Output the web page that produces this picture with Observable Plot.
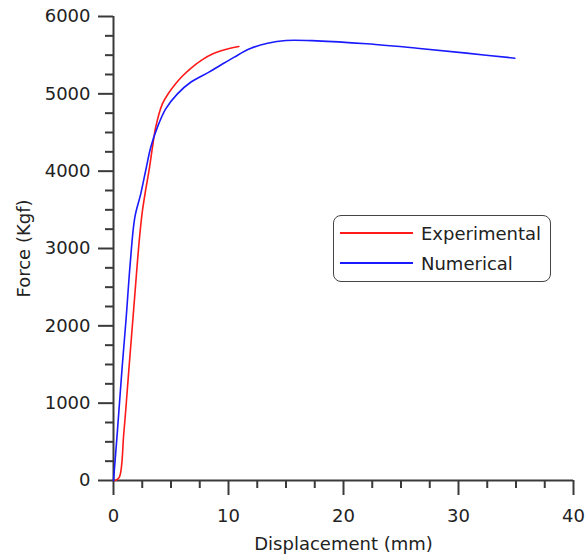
<!DOCTYPE html>
<html><head><meta charset="utf-8">
<script src="https://cdn.jsdelivr.net/npm/d3@7"></script>
<script src="https://cdn.jsdelivr.net/npm/@observablehq/plot@0.6"></script>
<style>
body{margin:0;background:#fff;font-family:"DejaVu Sans",sans-serif;}
#wrap{position:relative;width:586px;height:556px;}
.legend{position:absolute;left:333px;top:215px;width:216px;height:65px;border:1.6px solid #444;border-radius:8px;background:#fff;font-size:18px;color:#222;}
.legend .item{position:absolute;left:6px;height:22px;display:flex;align-items:center;}
.legend .item svg{margin-right:8px;}
</style>
</head><body>
<div id="wrap"></div>
<script>
// Series
const seriesNames = ["Experimental", "Numerical"];
const seriesColors = ["#ff1a1a", "#1a1aff"];

// Experimental curve: displacement (mm), force (Kgf)
const expDisp  = [0.15, 0.5, 0.9, 1.35, 1.8, 2.25, 2.5, 2.8, 3.09, 3.39, 3.67, 4.25, 4.8, 5.4, 6.0, 6.8, 7.7, 8.6, 9.9, 10.9];
const expForce = [0, 40, 620, 1460, 2300, 3120, 3470, 3760, 4009, 4310, 4569, 4870, 5010, 5130, 5230, 5340, 5440, 5515, 5580, 5612];

// Numerical curve
const numDisp  = [0, 0.32, 0.75, 1.1, 1.45, 1.85, 2.37, 2.8, 3.24, 3.82, 4.54, 5.56, 6.71, 8.3, 9.3, 10.5, 11.9, 13.4, 15.0, 17.7, 22.0, 26.4, 30.7, 34.9];
const numForce = [0, 600, 1460, 2100, 2800, 3400, 3707, 4009, 4310, 4569, 4806, 5000, 5150, 5280, 5370, 5475, 5585, 5655, 5690, 5685, 5647, 5590, 5526, 5461];

// Axis ticks
const xMajor = [0, 10, 20, 30, 40];
const yMajor = [0, 1000, 2000, 3000, 4000, 5000, 6000];
const xMinor = d3.range(0, 40.001, 2.5).filter(v => !xMajor.includes(v));
const yMinor = d3.range(0, 6000.1, 250).filter(v => !yMajor.includes(v));

const rows = [
  ...expDisp.map((d, i) => ({series: seriesNames[0], d, f: expForce[i]})),
  ...numDisp.map((d, i) => ({series: seriesNames[1], d, f: numForce[i]}))
];

const axisColor = "#3a3a3a";
const chart = Plot.plot({
  width: 586, height: 556,
  marginLeft: 113, marginRight: 13, marginTop: 16, marginBottom: 76,
  style: {fontFamily: "DejaVu Sans, sans-serif", fontSize: "18px", color: "#222", background: "#fff"},
  x: {domain: [0, 40]},
  y: {domain: [0, 6000]},
  color: {domain: seriesNames, range: seriesColors},
  marks: [
    Plot.axisX(xMinor, {tickSize: 8, tickFormat: () => "", label: null, stroke: axisColor, strokeWidth: 2}),
    Plot.axisX(xMajor, {tickSize: 15, tickPadding: 14, stroke: axisColor, strokeWidth: 2, fill: "#222",
      tickFormat: d3.format("d"),
      label: "Displacement (mm)", labelAnchor: "center", labelArrow: "none", labelOffset: 69}),
    Plot.axisY(yMinor, {tickSize: 8, tickFormat: () => "", label: null, stroke: axisColor, strokeWidth: 2}),
    Plot.axisY(yMajor, {tickSize: 15, tickPadding: 8, stroke: axisColor, strokeWidth: 2, fill: "#222",
      tickFormat: d3.format("d"),
      label: "Force (Kgf)", labelAnchor: "center", labelArrow: "none", labelOffset: 96}),
    Plot.ruleY([0], {stroke: axisColor, strokeWidth: 2}),
    Plot.ruleX([0], {stroke: axisColor, strokeWidth: 2}),
    Plot.line(rows, {x: "d", y: "f", z: "series", stroke: "series", strokeWidth: 1.6, curve: "catmull-rom"})
  ]
});
const wrap = document.getElementById("wrap");
wrap.appendChild(chart);

// Legend
const legend = document.createElement("div");
legend.className = "legend";
seriesNames.forEach((name, i) => {
  const item = document.createElement("div");
  item.className = "item";
  item.style.top = (6 + i * 30) + "px";
  item.innerHTML = `<svg width="73" height="4"><line x1="0" y1="2" x2="73" y2="2" stroke="${seriesColors[i]}" stroke-width="2"/></svg><span>${name}</span>`;
  legend.appendChild(item);
});
wrap.appendChild(legend);
</script>
</body></html>
